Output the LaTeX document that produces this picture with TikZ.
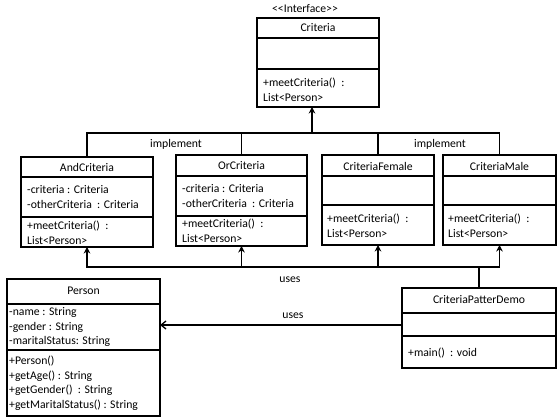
\documentclass[tikz,border=0pt]{standalone}
\usepackage{fontspec}
\setmainfont{Carlito}
\usetikzlibrary{arrows.meta}
\begin{document}
\begin{tikzpicture}[x=1pt,y=-1pt,
  every node/.style={font=\fontsize{11.7}{14.5}\selectfont},
  cls/.style={draw, line width=1.3pt, anchor=north west, inner sep=0, outer sep=0},
  sep/.style={line width=1.3pt},
  ttl/.style={inner sep=0},
  txt/.style={anchor=west, align=left, inner sep=0},
  bus/.style={line width=1.8pt},
  tip/.style={-{Stealth[length=6.5pt,width=6.5pt]}},
  lbl/.style={inner sep=0}]
\useasboundingbox (0,0) rectangle (560,420);

% Criteria
\node[cls, minimum width=122pt, minimum height=89pt] (crit) at (257,18) {};
\draw[sep] (crit.west |- 0,38) -- (crit.east |- 0,38);
\draw[sep] (crit.west |- 0,69) -- (crit.east |- 0,69);
\node[lbl] (iface) at (305,9) {<\kern0pt<Interface>\kern0pt>};
\node[ttl] (critt) at (318,28) {Criteria};
\node[txt] (critm) at (263,90) {+meetCriteria()\ \ :\\List<Person>};

% AndCriteria
\node[cls, minimum width=132pt, minimum height=90pt] (and) at (21,157) {};
\draw[sep] (and.west |- 0,177) -- (and.east |- 0,177);
\draw[sep] (and.west |- 0,217) -- (and.east |- 0,217);
\node[ttl] (andt) at (87,167) {AndCriteria};
\node[txt] (anda) at (27,197) {-criteria\ : Criteria\\-otherCriteria\ \ : Criteria};
\node[txt] (andm) at (27,233) {+meetCriteria()\ \ :\\List<Person>};

% OrCriteria
\node[cls, minimum width=131pt, minimum height=91pt] (or) at (176,155) {};
\draw[sep] (or.west |- 0,176) -- (or.east |- 0,176);
\draw[sep] (or.west |- 0,216) -- (or.east |- 0,216);
\node[ttl] (ort) at (241.5,166) {OrCriteria};
\node[txt] (ora) at (182,196) {-criteria\ : Criteria\\-otherCriteria\ \ : Criteria};
\node[txt] (orm) at (182,231) {+meetCriteria()\ \ :\\List<Person>};

% CriteriaFemale
\node[cls, minimum width=112pt, minimum height=90pt] (fem) at (322,155) {};
\draw[sep] (fem.west |- 0,176) -- (fem.east |- 0,176);
\draw[sep] (fem.west |- 0,205) -- (fem.east |- 0,205);
\node[ttl] (femt) at (378,166) {CriteriaFemale};
\node[txt] (femm) at (327,226) {+meetCriteria()\ \ :\\List<Person>};

% CriteriaMale
\node[cls, minimum width=113pt, minimum height=90pt] (male) at (443,155) {};
\draw[sep] (male.west |- 0,176) -- (male.east |- 0,176);
\draw[sep] (male.west |- 0,205) -- (male.east |- 0,205);
\node[ttl] (malet) at (499.5,166) {CriteriaMale};
\node[txt] (malem) at (448,226) {+meetCriteria()\ \ :\\List<Person>};

% Person
\node[cls, minimum width=153pt, minimum height=137pt] (person) at (7,279) {};
\draw[sep] (person.west |- 0,304) -- (person.east |- 0,304);
\draw[sep] (person.west |- 0,350) -- (person.east |- 0,350);
\node[ttl] (persont) at (83.5,291) {Person};
\node[txt] (persona) at (9,327) {-name\ : String\\-gender\ : String\\-maritalStatus: String};
\node[txt] (personm) at (9,383) {+Person()\\+getAge() : String\\+getGender()\ \ : String\\+getMaritalStatus()\ : String};

% CriteriaPatterDemo
\node[cls, minimum width=154pt, minimum height=80pt] (demo) at (402,288) {};
\draw[sep] (demo.west |- 0,313) -- (demo.east |- 0,313);
\draw[sep] (demo.west |- 0,336) -- (demo.east |- 0,336);
\node[ttl] (demot) at (479,300) {CriteriaPatterDemo};
\node[txt] (demom) at (408,353) {+main()\ \ : void};

% implement bus
\coordinate (tb) at (312,133);
\draw[bus] (and.north) |- (tb) -| (male.north);
\draw[bus] (or.north) -- (or.north |- tb);
\draw[bus] (fem.north) -- (fem.north |- tb);
\draw[bus,tip] (tb) -- (tb |- crit.south);
\node[lbl] (impl1) at (176,144) {implement};
\node[lbl] (impl2) at (440,144) {implement};

% uses bus
\coordinate (bb) at (demo.north |- 0,267);
\draw[bus] (demo.north) -- (bb);
\draw[bus,tip] (bb) -| (and.south);
\draw[bus,tip] (bb) -| (male.south);
\draw[bus,tip] (or.south |- bb) -- (or.south);
\draw[bus,tip] (fem.south |- bb) -- (fem.south);
\node[lbl] (uses1) at (290,280) {uses};

% Person association
\draw[line width=1.3pt,-{Straight Barb[length=5pt,width=8pt]}] (demo.west |- 0,325) -- (person.east |- 0,325);
\node[lbl] (uses2) at (293,316) {uses};
\end{tikzpicture}
\end{document}
